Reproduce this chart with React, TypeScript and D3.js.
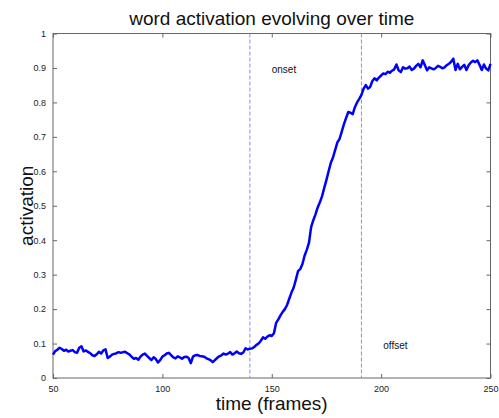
import { useEffect, useRef } from 'react';
import * as d3 from 'd3';

// frames 50..250, one value per frame
const startFrame = 50;
const activation = [
  0.068, 0.078, 0.082, 0.088, 0.084, 0.079, 0.082, 0.077, 0.079, 0.081,
  0.075, 0.073, 0.088, 0.092, 0.077, 0.080, 0.076, 0.072, 0.066, 0.064,
  0.069, 0.076, 0.071, 0.080, 0.083, 0.058, 0.062, 0.068, 0.070, 0.072,
  0.075, 0.073, 0.075, 0.076, 0.072, 0.068, 0.061, 0.056, 0.058, 0.053,
  0.062, 0.068, 0.071, 0.064, 0.058, 0.052, 0.060, 0.055, 0.045, 0.052,
  0.062, 0.066, 0.071, 0.073, 0.066, 0.060, 0.057, 0.063, 0.060, 0.056,
  0.061, 0.062, 0.058, 0.043, 0.062, 0.066, 0.067, 0.064, 0.063, 0.062,
  0.058, 0.055, 0.052, 0.046, 0.052, 0.058, 0.063, 0.066, 0.071, 0.068,
  0.071, 0.075, 0.068, 0.072, 0.077, 0.072, 0.070, 0.074, 0.086, 0.083,
  0.085, 0.086, 0.090, 0.096, 0.100, 0.108, 0.118, 0.114, 0.120, 0.124,
  0.122, 0.130, 0.160, 0.170, 0.182, 0.192, 0.200, 0.212, 0.230, 0.248,
  0.262, 0.285, 0.310, 0.316, 0.330, 0.355, 0.372, 0.392, 0.438, 0.458,
  0.475, 0.495, 0.510, 0.528, 0.552, 0.575, 0.600, 0.625, 0.640, 0.662,
  0.684, 0.694, 0.715, 0.737, 0.755, 0.772, 0.770, 0.766, 0.786, 0.800,
  0.810, 0.822, 0.840, 0.850, 0.840, 0.845, 0.862, 0.870, 0.864, 0.872,
  0.878, 0.884, 0.882, 0.889, 0.886, 0.892, 0.896, 0.910, 0.893, 0.888,
  0.902, 0.898, 0.899, 0.904, 0.894, 0.898, 0.906, 0.912, 0.902, 0.922,
  0.908, 0.893, 0.902, 0.899, 0.896, 0.900, 0.906, 0.903, 0.899, 0.902,
  0.908, 0.912, 0.918, 0.927, 0.894, 0.912, 0.896, 0.903, 0.909, 0.894,
  0.908, 0.916, 0.921, 0.917, 0.922, 0.909, 0.894, 0.910, 0.898, 0.893,
  0.912,
];

const xTicks = [50, 100, 150, 200, 250];
const yTicks = [0, 0.1, 0.2, 0.3, 0.4, 0.5, 0.6, 0.7, 0.8, 0.9, 1];
const markers = [
  { frame: 140, label: 'onset', labelFrame: 150, labelY: 0.885 },
  { frame: 191, label: 'offset', labelFrame: 201, labelY: 0.083 },
];

const App = () => {
  const svgRef = useRef<SVGSVGElement>(null);

  useEffect(() => {
    const svg = d3.select(svgRef.current);
    svg.selectAll('*').remove();

    const margin = { top: 33.5, right: 8.5, bottom: 40, left: 53 };
    const W = 499;
    const H = 418;
    const width = W - margin.left - margin.right;
    const height = H - margin.top - margin.bottom;
    const font = 'Liberation Sans, Arial, Helvetica, sans-serif';

    const data = activation.map((v, i) => ({ t: startFrame + i, v }));

    const x = d3.scaleLinear().domain([50, 250]).range([0, width]);
    const y = d3.scaleLinear().domain([0, 1]).range([height, 0]);

    const g = svg
      .append('g')
      .attr('transform', `translate(${margin.left},${margin.top})`);

    // axes with inward ticks on all four sides
    const styleAxis = (sel: any) => {
      sel.select('.domain').remove();
      sel.selectAll('line').attr('stroke', '#666').attr('stroke-width', 1);
      sel
        .selectAll('text')
        .attr('fill', '#222')
        .style('font-family', font)
        .style('font-size', '9px');
    };

    g.append('g')
      .attr('transform', `translate(0,${height})`)
      .call(d3.axisBottom(x).tickValues(xTicks).tickSizeInner(-4).tickSizeOuter(0).tickPadding(8))
      .call(styleAxis);

    g.append('g')
      .call(d3.axisTop(x).tickValues(xTicks).tickSizeInner(-4).tickSizeOuter(0).tickFormat(() => ''))
      .call(styleAxis);

    g.append('g')
      .call(
        d3.axisLeft(y).tickValues(yTicks).tickSizeInner(-4).tickSizeOuter(0).tickPadding(7)
          .tickFormat(d3.format('~g'))
      )
      .call(styleAxis);

    g.append('g')
      .attr('transform', `translate(${width},0)`)
      .call(d3.axisRight(y).tickValues(yTicks).tickSizeInner(-4).tickSizeOuter(0).tickFormat(() => ''))
      .call(styleAxis);

    // box
    g.append('rect')
      .attr('width', width)
      .attr('height', height)
      .attr('fill', 'none')
      .attr('stroke', '#666')
      .attr('stroke-width', 1);

    // onset / offset markers
    markers.forEach(m => {
      g.append('line')
        .attr('x1', x(m.frame))
        .attr('x2', x(m.frame))
        .attr('y1', 0)
        .attr('y2', height)
        .attr('stroke', '#8a8aff')
        .attr('stroke-width', 1)
        .attr('stroke-dasharray', '4,2');
      g.append('text')
        .attr('x', x(m.labelFrame))
        .attr('y', y(m.labelY))
        .attr('fill', '#111')
        .style('font-family', font)
        .style('font-size', '10px')
        .text(m.label);
    });

    // activation curve
    const line = d3
      .line<{ t: number; v: number }>()
      .x(d => x(d.t))
      .y(d => y(d.v));

    g.append('path')
      .datum(data)
      .attr('d', line)
      .attr('fill', 'none')
      .attr('stroke', '#0000ff')
      .attr('stroke-width', 2.5)
      .attr('stroke-linejoin', 'round');

    // title and axis labels
    svg
      .append('text')
      .attr('x', margin.left + width / 2)
      .attr('y', 25)
      .attr('text-anchor', 'middle')
      .attr('fill', '#111')
      .style('font-family', font)
      .style('font-size', '19px')
      .text('word activation evolving over time');

    svg
      .append('text')
      .attr('x', margin.left + width / 2)
      .attr('y', 410)
      .attr('text-anchor', 'middle')
      .attr('fill', '#111')
      .style('font-family', font)
      .style('font-size', '19px')
      .text('time (frames)');

    svg
      .append('text')
      .attr('transform', `translate(33,${margin.top + height / 2}) rotate(-90)`)
      .attr('text-anchor', 'middle')
      .attr('fill', '#111')
      .style('font-family', font)
      .style('font-size', '19px')
      .text('activation');
  }, []);

  return (
    <svg
      ref={svgRef}
      width={499}
      height={418}
      style={{ position: 'absolute', left: 0, top: 0, background: '#fff' }}
    ></svg>
  );
};

export default App;
